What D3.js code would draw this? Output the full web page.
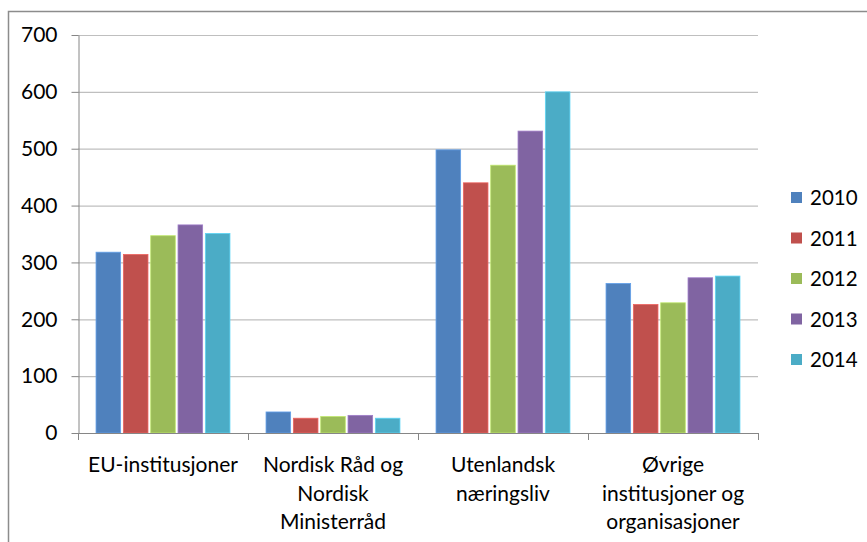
<!DOCTYPE html>
<html>
<head>
<meta charset="utf-8">
<script src="https://cdn.jsdelivr.net/npm/d3@7"></script>
<style>
  body { margin: 0; background: #fff; }
  svg { font-family: Lato, "Open Sans", sans-serif; }
</style>
</head>
<body>
<svg width="867" height="542"></svg>
<script>
let width = 867, height = 542

// categories, each label split the way the reference wraps it
let categories = ['EU', 'Nordisk', 'Utenlandsk', 'Ovrige']
let categoryLabels = [
    ['EU-institusjoner'],
    ['Nordisk Råd og', 'Nordisk', 'Ministerråd'],
    ['Utenlandsk', 'næringsliv'],
    ['Øvrige', 'institusjoner og', 'organisasjoner']
]
let years = ['2010', '2011', '2012', '2013', '2014']
let colors = ['#4F81BD', '#C0504D', '#9BBB59', '#8064A2', '#4BACC6']

// values per year, in category order
let v2010 = [318, 37, 498, 263]
let v2011 = [314, 26, 440, 226]
let v2012 = [347, 29, 471, 229]
let v2013 = [366, 31, 531, 273]
let v2014 = [351, 26, 600, 276]
let series = [v2010, v2011, v2012, v2013, v2014]

let yTicks = [0, 100, 200, 300, 400, 500, 600, 700]

let svg = d3.select('svg')

let x0 = d3.scaleBand().domain(categories).range([78, 758])
let x1 = d3.scaleBand().domain(years).range([0, x0.bandwidth()])
    .paddingInner(0.1).paddingOuter(0.66)
let y = d3.scaleLinear().domain([0, 700]).range([433, 35])

// outer chart border (only top and left are in view)
svg.append('path')
    .attr('d', 'M8.5,' + height + 'V11.5H' + width)
    .attr('fill', 'none')
    .attr('stroke', '#8c8c8c')
    .attr('stroke-width', 1.5)

// gridlines
svg.append('g')
    .selectAll('line')
    .data(yTicks.slice(1))
    .join('line')
    .attr('x1', 78).attr('x2', 758)
    .attr('y1', function (d) {return y(d) + 0.5})
    .attr('y2', function (d) {return y(d) + 0.5})
    .attr('stroke', '#bfbfbf')
    .attr('stroke-width', 1.2)

// bars
let data = []
categories.forEach(function (c, ci) {
    years.forEach(function (yr, yi) {
        data.push({cat: c, year: yr, value: series[yi][ci], color: colors[yi]})
    })
})

svg.append('g')
    .selectAll('rect')
    .data(data)
    .join('rect')
    .attr('x', function (d) {return x0(d.cat) + x1(d.year)})
    .attr('y', function (d) {return y(d.value)})
    .attr('width', x1.bandwidth())
    .attr('height', function (d) {return y(0) - y(d.value)})
    .attr('fill', function (d) {return d.color})
    .attr('stroke', function (d) {return d3.color(d.color).brighter(0.6)})
    .attr('stroke-width', 0.8)

// y axis
let yAxis = svg.append('g')
    .attr('transform', 'translate(78.5,0)')
    .call(d3.axisLeft(y).tickValues(yTicks).tickSize(7).tickPadding(14).tickSizeOuter(0))
yAxis.select('.domain').attr('stroke', '#868686')
yAxis.selectAll('.tick line').attr('stroke', '#868686')
yAxis.selectAll('.tick text')
    .attr('font-size', 21)
    .attr('fill', '#000')
    .attr('font-family', 'Lato, sans-serif')

// x axis line and category ticks
let xAxis = svg.append('g')
xAxis.append('line')
    .attr('x1', 78).attr('x2', 758)
    .attr('y1', 433.5).attr('y2', 433.5)
    .attr('stroke', '#868686')
xAxis.selectAll('.cat-tick')
    .data(categories.map(function (c) {return x0(c)}).concat([758]))
    .join('line')
    .attr('class', 'cat-tick')
    .attr('x1', function (d) {return d + 0.5})
    .attr('x2', function (d) {return d + 0.5})
    .attr('y1', 433).attr('y2', 440)
    .attr('stroke', '#868686')

// category labels
xAxis.selectAll('.cat-label')
    .data(categories)
    .join('text')
    .attr('class', 'cat-label')
    .attr('text-anchor', 'middle')
    .attr('font-size', 21)
    .attr('fill', '#000')
    .each(function (c, i) {
        let t = d3.select(this)
        categoryLabels[i].forEach(function (line, li) {
            t.append('tspan')
                .attr('x', x0(c) + x0.bandwidth() / 2)
                .attr('y', 472 + li * 28.5)
                .text(line)
        })
    })

// legend
let legend = svg.append('g')
    .selectAll('g')
    .data(years)
    .join('g')
    .attr('transform', function (d, i) {return 'translate(791,' + (198 + i * 40.5) + ')'})
legend.append('rect')
    .attr('x', 0).attr('y', -6)
    .attr('width', 11).attr('height', 11)
    .attr('fill', function (d, i) {return colors[i]})
legend.append('text')
    .attr('x', 19)
    .attr('dy', '0.35em')
    .attr('font-size', 20.5)
    .attr('fill', '#000')
    .text(function (d) {return d})
</script>
</body>
</html>
